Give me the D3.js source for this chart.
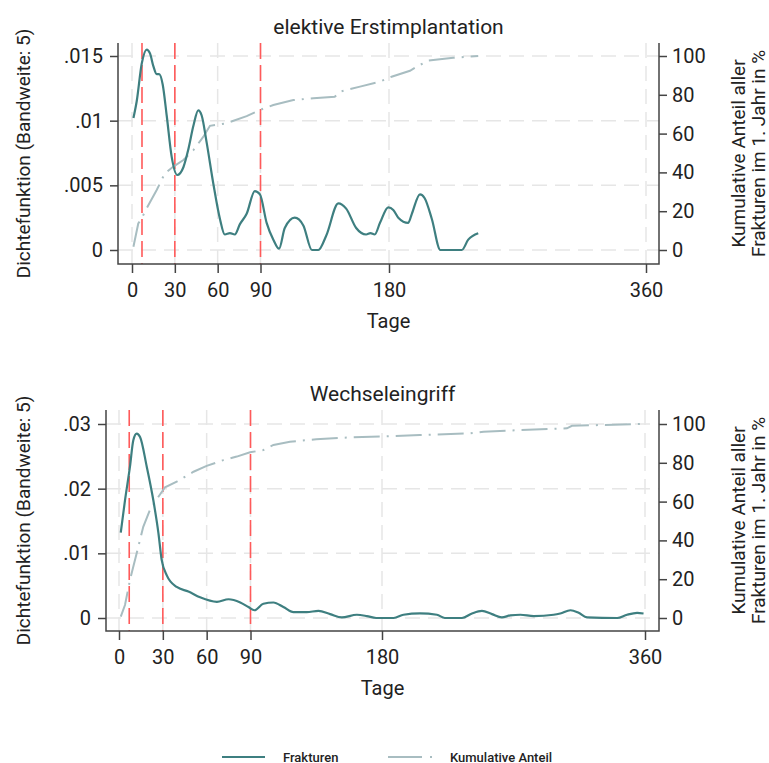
<!DOCTYPE html>
<html>
<head>
<meta charset="utf-8">
<script src="https://cdn.jsdelivr.net/npm/d3@7"></script>
<style>
  body { margin: 0; background: #fff; }
  text { font-family: Roboto, "Noto Sans", sans-serif; fill: #222; }
</style>
</head>
<body>
<script>
// shared ticks
var xTicks = [0, 30, 60, 90, 180, 360];
var markerDays = [7, 30, 90];
var rightTicks = [0, 20, 40, 60, 80, 100];

// elektive Erstimplantation
var topLeftTicks = [0, 0.005, 0.01, 0.015];
var topDensDays = [1, 3.3, 6.8, 10.3, 12.6, 15, 17.3, 19, 21.5, 24.3, 27.8, 31.7, 36, 39.5, 43, 46.4, 48.8, 52.3, 57, 61.6, 65, 68.6, 72, 75.6, 80.3, 86, 89.6, 94.3, 99, 103, 107, 114, 120, 126, 130.5, 136, 144.5, 150, 157, 164, 167, 170, 173.7, 179.5, 183, 186.5, 193.5, 196, 201.7, 205, 210, 216, 231, 235.5, 242.5];
var topDensVals = [0.0102, 0.0115, 0.0144, 0.0155, 0.0152, 0.0142, 0.0136, 0.0136, 0.0128, 0.0104, 0.0072, 0.0058, 0.0064, 0.0078, 0.0096, 0.0108, 0.0104, 0.0083, 0.0051, 0.0024, 0.0012, 0.0013, 0.0012, 0.002, 0.0028, 0.00455, 0.0043, 0.0021, 0.0008, 0.0001, 0.0017, 0.0025, 0.0019, 0, 0, 0.0011, 0.0036, 0.0032, 0.0017, 0.0012, 0.0013, 0.0012, 0.0021, 0.0033, 0.0031, 0.0025, 0.0021, 0.0028, 0.0043, 0.004, 0.0024, 0, 0, 0.0008, 0.0013];
var topCumDays = [1, 4.4, 6.8, 9.6, 17.3, 23, 29, 36, 43, 50, 54.6, 66, 80.3, 89.6, 99, 113, 127, 142, 145.7, 159.7, 173.7, 181.8, 194.7, 201.7, 207.5, 225, 242.5];
var topCumVals = [1.7, 13.7, 16.3, 20.6, 30.9, 39.5, 43, 46.4, 51.5, 58.4, 64, 65.3, 69, 72.2, 74.7, 77.3, 78.2, 79, 81.6, 84.2, 86.8, 89.3, 92.4, 95.4, 97.6, 99.1, 100];

// Wechseleingriff
var botLeftTicks = [0, 0.01, 0.02, 0.03];
var botDensDays = [1.2, 4.1, 7.5, 9.8, 12.1, 14.4, 19, 23.5, 27, 29.2, 32.7, 39.5, 47.5, 55.5, 67, 75, 83, 88.6, 92.7, 98.8, 105.7, 112.5, 119.4, 128.5, 136.5, 144.5, 152.5, 162.8, 169.6, 176, 188, 194.7, 206, 217.6, 223, 234.7, 241.6, 248.4, 255.3, 262, 267.8, 274.7, 283.8, 297.5, 302, 309, 314.6, 320.3, 341, 347.7, 354.6, 359];
var botDensVals = [0.0132, 0.0182, 0.0234, 0.0275, 0.0285, 0.028, 0.0234, 0.0182, 0.0131, 0.009, 0.0066, 0.0048, 0.0041, 0.0032, 0.0025, 0.0029, 0.0024, 0.0017, 0.0012, 0.0022, 0.0024, 0.0017, 0.0009, 0.0009, 0.0011, 0.0006, 0.0001, 0.0005, 0.0003, 0, 0, 0.0005, 0.0007, 0.0005, 0, 0, 0.0007, 0.0011, 0.0006, 0.0001, 0.0004, 0.0005, 0.0003, 0.0005, 0.0007, 0.0012, 0.0008, 0.0001, 0, 0.0005, 0.0008, 0.0007];
var botCumDays = [1.2, 4.1, 7.5, 12.1, 16.6, 21.2, 27, 31.5, 39.5, 51, 60, 71.5, 80.6, 89.7, 98.8, 105.7, 117, 135, 158, 178.8, 206, 240, 249.5, 274.7, 306.6, 310, 331.7, 358];
var botCumVals = [0.7, 6.7, 19.6, 33.4, 47, 55.7, 62.5, 67.4, 70.3, 75.4, 78.4, 81.4, 83.2, 85.4, 86.6, 89.2, 90.9, 92.1, 93.1, 93.5, 94.3, 95.2, 96, 96.9, 97.8, 99.1, 99.5, 100];

var teal = "#3e7f80";
var cumColor = "#a8bdc1";
var red = "#ff5a5a";
var gridColor = "#e6e6e6";

var svg = d3.select("body").append("svg")
  .attr("width", 769)
  .attr("height", 763);

var fmtLeft = function(d) {
  return d === 0 ? "0" : String(+d.toFixed(3)).replace(/^0/, "");
};

function drawPanel(p) {
  var x = d3.scaleLinear().domain([0, 360]).range([p.x0, p.x360]);
  var yL = d3.scaleLinear().domain([0, p.leftTicks[p.leftTicks.length - 1]]).range([p.yZero, p.yTop]);
  var yR = d3.scaleLinear().domain([0, 100]).range([p.yZero, p.yTop]);

  var g = svg.append("g");

  // grid
  g.selectAll(".hgrid").data(p.leftTicks).enter().append("line")
    .attr("x1", p.left).attr("x2", p.right)
    .attr("y1", function(d) { return yL(d); })
    .attr("y2", function(d) { return yL(d); })
    .attr("stroke", gridColor).attr("stroke-width", 1.5)
    .attr("stroke-dasharray", "15,8");
  g.selectAll(".vgrid").data(xTicks).enter().append("line")
    .attr("x1", function(d) { return x(d); })
    .attr("x2", function(d) { return x(d); })
    .attr("y1", p.top).attr("y2", p.bottom)
    .attr("stroke", gridColor).attr("stroke-width", 1.5)
    .attr("stroke-dasharray", "15,8");

  // red markers at 7, 30, 90 days
  g.selectAll(".marker").data(markerDays).enter().append("line")
    .attr("x1", function(d) { return x(d); })
    .attr("x2", function(d) { return x(d); })
    .attr("y1", p.top).attr("y2", p.bottom)
    .attr("stroke", red).attr("stroke-width", 1.6)
    .attr("stroke-dasharray", "16,6");

  // cumulative share (right axis)
  var cum = p.cumDays.map(function(d, i) { return [d, p.cumVals[i]]; });
  g.append("path")
    .datum(cum)
    .attr("fill", "none")
    .attr("stroke", cumColor)
    .attr("stroke-width", 2)
    .attr("stroke-dasharray", "26,7,2,7")
    .attr("d", d3.line()
      .x(function(d) { return x(d[0]); })
      .y(function(d) { return yR(d[1]); }));

  // density
  var dens = p.densDays.map(function(d, i) { return [d, p.densVals[i]]; });
  g.append("path")
    .datum(dens)
    .attr("fill", "none")
    .attr("stroke", teal)
    .attr("stroke-width", 2.2)
    .attr("stroke-linejoin", "round")
    .attr("d", d3.line()
      .curve(d3.curveMonotoneX)
      .x(function(d) { return x(d[0]); })
      .y(function(d) { return yL(d[1]); }));

  // frame: left, bottom, right
  g.append("path")
    .attr("d", "M" + p.left + "," + p.top + "V" + p.bottom + "H" + p.right + "V" + p.top)
    .attr("fill", "none").attr("stroke", "#444").attr("stroke-width", 1.5);

  var xAxis = g.append("g")
    .attr("transform", "translate(0," + p.bottom + ")")
    .call(d3.axisBottom(x).tickValues(xTicks).tickSize(9).tickPadding(10));
  var lAxis = g.append("g")
    .attr("transform", "translate(" + p.left + ",0)")
    .call(d3.axisLeft(yL).tickValues(p.leftTicks).tickFormat(fmtLeft).tickSize(8).tickPadding(7));
  var rAxis = g.append("g")
    .attr("transform", "translate(" + p.right + ",0)")
    .call(d3.axisRight(yR).tickValues(rightTicks).tickSize(8).tickPadding(5));

  [xAxis, lAxis, rAxis].forEach(function(a) {
    a.select(".domain").remove();
    a.selectAll(".tick line").attr("stroke", "#444").attr("stroke-width", 1.5);
    a.selectAll(".tick text").attr("font-size", 20).attr("fill", "#222")
      .style("font-family", "Roboto, sans-serif");
  });

  var cx = (p.left + p.right) / 2;
  var cy = (p.top + p.bottom) / 2;

  g.append("text")
    .attr("x", cx).attr("y", p.titleY)
    .attr("text-anchor", "middle").attr("font-size", 21)
    .text(p.title);

  g.append("text")
    .attr("x", cx).attr("y", p.bottom + 64)
    .attr("text-anchor", "middle").attr("font-size", 20)
    .text("Tage");

  g.append("text")
    .attr("transform", "translate(30," + cy + ") rotate(-90)")
    .attr("text-anchor", "middle").attr("font-size", 19)
    .text("Dichtefunktion (Bandweite: 5)");

  g.append("text")
    .attr("transform", "translate(745," + cy + ") rotate(-90)")
    .attr("text-anchor", "middle").attr("font-size", 19)
    .text("Kumulative Anteil aller");
  g.append("text")
    .attr("transform", "translate(765," + cy + ") rotate(-90)")
    .attr("text-anchor", "middle").attr("font-size", 19)
    .text("Frakturen im 1. Jahr in %");
}

drawPanel({
  title: "elektive Erstimplantation", titleY: 34,
  left: 118, right: 659, top: 43, bottom: 264,
  x0: 132, x360: 646, yZero: 250, yTop: 56,
  leftTicks: topLeftTicks,
  densDays: topDensDays, densVals: topDensVals,
  cumDays: topCumDays, cumVals: topCumVals
});

drawPanel({
  title: "Wechseleingriff", titleY: 401,
  left: 106, right: 659, top: 410, bottom: 631,
  x0: 119, x360: 645, yZero: 618, yTop: 424,
  leftTicks: botLeftTicks,
  densDays: botDensDays, densVals: botDensVals,
  cumDays: botCumDays, cumVals: botCumVals
});

// legend
var legend = svg.append("g").attr("transform", "translate(0,757)");
legend.append("line")
  .attr("x1", 222).attr("x2", 265).attr("y1", 0).attr("y2", 0)
  .attr("stroke", teal).attr("stroke-width", 2.2);
legend.append("text")
  .attr("x", 283).attr("y", 4.5).attr("font-size", 13).attr("font-weight", 500)
  .text("Frakturen");
legend.append("line")
  .attr("x1", 388).attr("x2", 432).attr("y1", 0).attr("y2", 0)
  .attr("stroke", cumColor).attr("stroke-width", 2.2)
  .attr("stroke-dasharray", "34,8,2,8");
legend.append("text")
  .attr("x", 450).attr("y", 4.5).attr("font-size", 13).attr("font-weight", 500)
  .text("Kumulative Anteil");
</script>
</body>
</html>
